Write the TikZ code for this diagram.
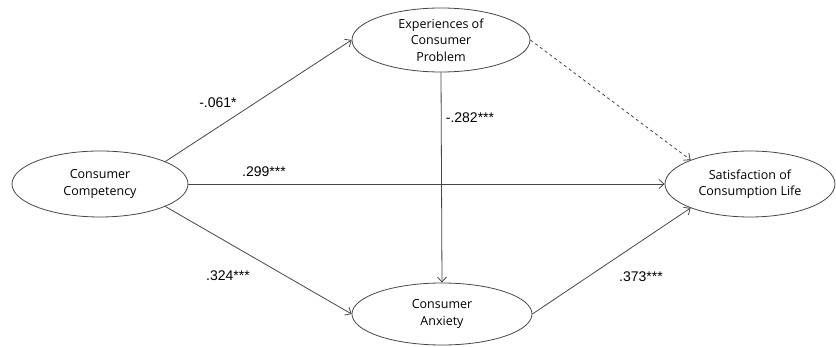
\documentclass[tikz,border=0pt]{standalone}
\usepackage{fontspec}
\setmainfont{Open Sans}
\newfontfamily\labelfont{Liberation Sans}
\usetikzlibrary{shapes.geometric,arrows.meta}
\definecolor{linegray}{RGB}{70,70,70}
\tikzset{
  factor/.style={ellipse,draw=linegray,line width=0.8pt,inner sep=0pt,
    minimum width=#1,minimum height=64pt,align=center,
    font=\fontsize{12.5}{16.5}\selectfont},
  coef/.style={font=\labelfont\fontsize{14}{16}\selectfont},
  path/.style={-{Straight Barb[length=5pt,width=9pt]},draw=linegray,line width=0.8pt}
}
\begin{document}
\begin{tikzpicture}[x=1pt,y=-1pt]
    \useasboundingbox (0,0) rectangle (836,347);
    \node[factor=176pt,minimum height=66pt] (cc) at (100,184) {Consumer\\Competency};
    \node[factor=178pt] (ep) at (441,40) {Experiences of\\Consumer\\Problem};
    \node[factor=180pt,minimum height=62pt] (ca) at (442,314) {Consumer\\Anxiety};
    \node[factor=170pt,minimum height=66pt] (sl) at (750,184) {Satisfaction of\\Consumption Life};

 \draw[path] (cc.19) -- (ep.west);
 \draw[path] (cc.east) -- (sl.west);
 \draw[path] (cc.-19) -- (ca.west);
 \draw[path] (ep.south) -- (ca.north);
 \draw[path] (ca.east) -- (sl.202);
 \draw[path,dashed] (ep.east) -- (sl.158);

 \node[coef] (b1) at (218,103) {-.061*};
 \node[coef] (b2) at (264,172) {.299***};
 \node[coef] (b3) at (470,118) {-.282***};
 \node[coef] (b4) at (228,276) {.324***};
 \node[coef] (b5) at (641,277) {.373***};
    \end{tikzpicture}
\end{document}
